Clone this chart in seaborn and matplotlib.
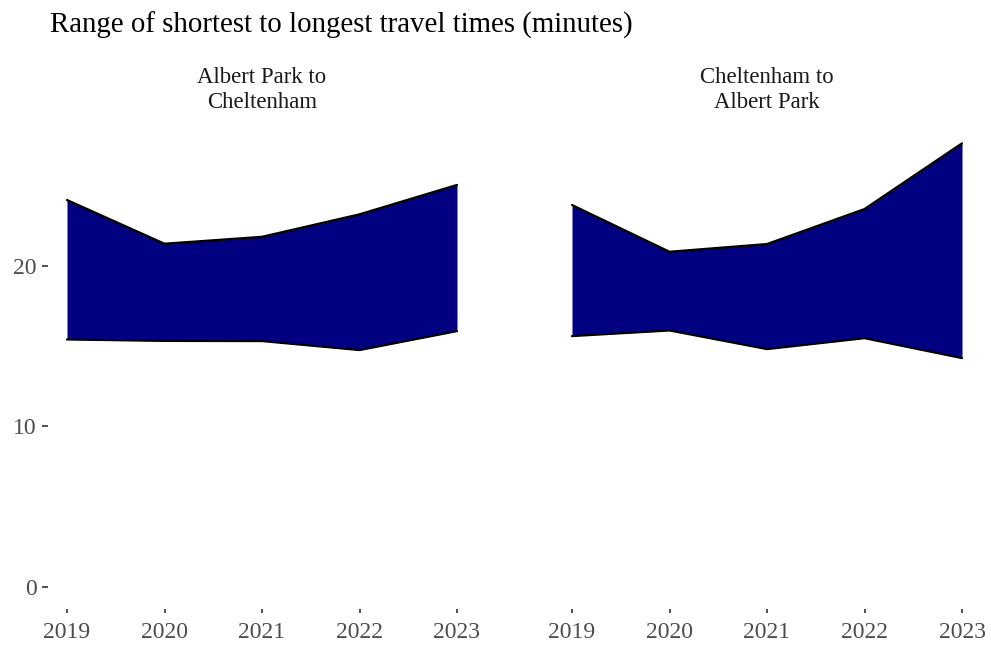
import matplotlib
matplotlib.use("Agg")
import matplotlib.pyplot as plt
import seaborn as sns
import pandas as pd
import numpy as np

years = [2019, 2020, 2021, 2022, 2023]
routes = ["Albert Park to\nCheltenham", "Cheltenham to\nAlbert Park"]
ap_to_ch_min = [15.40, 15.31, 15.30, 14.74, 15.92]
ap_to_ch_max = [24.08, 21.36, 21.79, 23.19, 25.02]
ch_to_ap_min = [15.61, 15.96, 14.80, 15.48, 14.24]
ch_to_ap_max = [23.77, 20.86, 21.34, 23.52, 27.61]

rows = []
for route, lo, hi in [(routes[0], ap_to_ch_min, ap_to_ch_max),
                      (routes[1], ch_to_ap_min, ch_to_ap_max)]:
    for y, a, b in zip(years, lo, hi):
        rows.append({"route": route, "year": y, "min": a, "max": b})
df = pd.DataFrame(rows)

sns.set_theme(style="white")
plt.rcParams['font.family'] = ['Liberation Serif', 'DejaVu Serif']

fig = plt.figure(figsize=(9.91, 6.53), dpi=100)
W, H = 991, 653
lefts = [47.5, 552.5]
pw = 429
top_px, bot_px = 121, 609
axes = []
for i, route in enumerate(routes):
    ax = fig.add_axes([lefts[i] / W, (H - bot_px) / H, pw / W, (bot_px - top_px) / H])
    sub = df[df["route"] == route]
    ax.fill_between(sub["year"], sub["min"], sub["max"], color="#000080", lw=0)
    sns.lineplot(data=sub, x="year", y="max", ax=ax, color="black", lw=1.6)
    sns.lineplot(data=sub, x="year", y="min", ax=ax, color="black", lw=1.6)
    ax.set_xlim(2018.8, 2023.2)
    ax.set_ylim(-1.38, 29.0)
    ax.set_xticks(years)
    ax.set_xticklabels([str(y) for y in years])
    ax.set_xlabel("")
    ax.set_ylabel("")
    for s in ax.spines.values():
        s.set_visible(False)
    ax.tick_params(axis="x", which="major", length=3.2, width=1.2, color="#333333",
                   labelsize=17, labelcolor="#4d4d4d", pad=6, bottom=True)
    ax.tick_params(axis="y", which="major", length=4, width=1.2, color="#333333",
                   labelsize=17, labelcolor="#4d4d4d", pad=4, left=(i == 0))
    if i == 0:
        ax.set_yticks([0, 10, 20])
        ax.set_yticklabels(["0", "10", "20"])
    else:
        ax.set_yticks([])
    ax.text(0.5, 1.016, route, transform=ax.transAxes, ha="center", va="bottom",
            fontsize=16.4, color="#1a1a1a", linespacing=1.25)
    axes.append(ax)

fig.text(50 / W, 1 - 12 / H, "Range of shortest to longest travel times (minutes)",
         ha="left", va="top", fontsize=20.8, color="black")

fig.savefig("out.png", dpi=100)
